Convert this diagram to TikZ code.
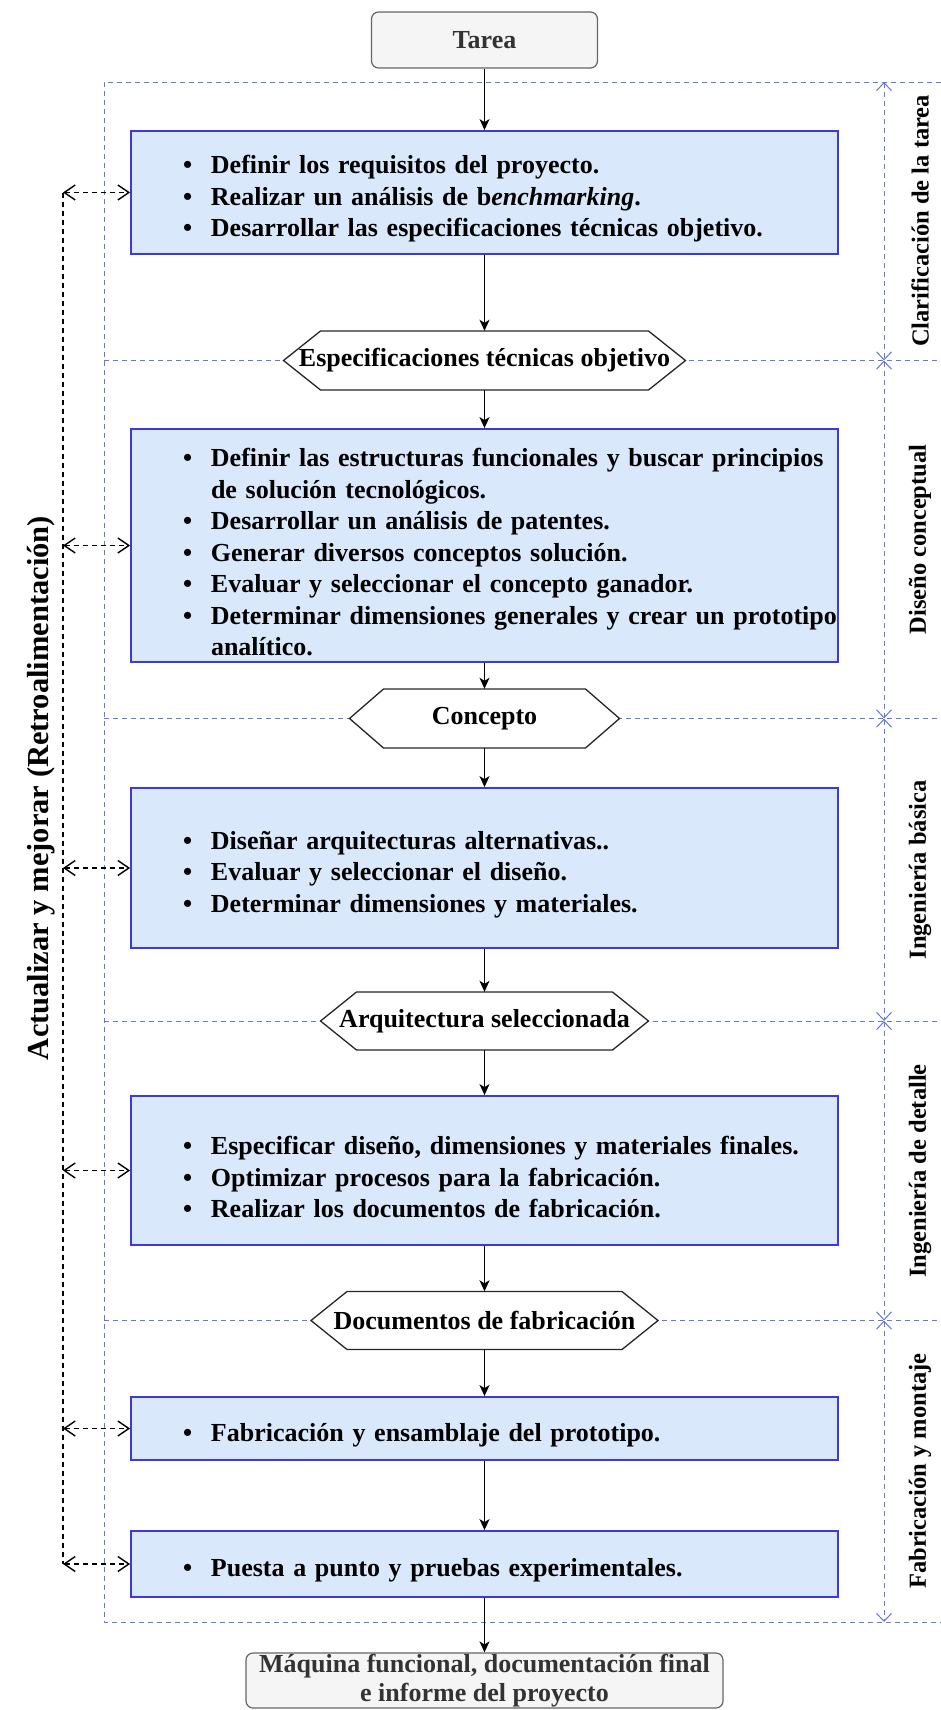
\documentclass[tikz,border=0pt]{standalone}
\usepackage{fontspec}
\setmainfont{Liberation Serif}
\usetikzlibrary{arrows.meta}
\definecolor{stepfill}{HTML}{DAE8FC}
\definecolor{stepline}{HTML}{3A3AE0}
\definecolor{phaseline}{HTML}{6477DC}
\definecolor{endfill}{HTML}{F5F5F5}
\definecolor{endline}{HTML}{666666}
\definecolor{endtext}{HTML}{333333}
\newcommand\stepitem[1]{\par\hangindent=28pt\noindent\makebox[28pt][l]{\textbullet}#1\par}
\tikzset{
  mainfont/.style={font=\bfseries\fontsize{26pt}{31.5pt}\selectfont},
  stepbox/.style={mainfont, draw=stepline, line width=1.8pt, fill=stepfill,
    inner xsep=0pt, inner ysep=0pt, text width=707pt,
    execute at begin node={\raggedright\leftskip=52pt\rightskip=-30pt plus 1fil}},
  endbox/.style={mainfont, draw=endline, line width=1.2pt, fill=endfill,
    text=endtext, rounded corners=7pt, align=center, inner sep=0pt},
  hexline/.style={draw=black!85, line width=1.3pt, fill=white},
  hexlabel/.style={mainfont, inner sep=0pt, minimum height=58pt},
  flow/.style={line width=1.5pt, -{Stealth[length=11pt,width=10pt,inset=3pt]}},
  phase/.style={draw=phaseline, line width=1pt, dash pattern=on 5pt off 4pt},
  phasearrow/.style={{Straight Barb[length=8pt,width=15pt]}-{Straight Barb[length=8pt,width=15pt]}},
  feedback/.style={line width=1.4pt, dash pattern=on 5pt off 4pt},
  feedarrow/.style={{Straight Barb[length=11pt,width=15pt]}-{Straight Barb[length=11pt,width=15pt]}},
  phaselabel/.style={font=\bfseries\fontsize{24.5pt}{29pt}\selectfont, rotate=90},
}
\begin{document}
\begin{tikzpicture}[x=1pt, y=-1pt]
\useasboundingbox (0,0) rectangle (941,1710);
% phase frame
\draw[phase] (941,82) -- (104,82) -- (104,1622) -- (941,1622);
\foreach \y in {360.5,718.5,1021,1320.5}
  \draw[phase] (104,\y) -- (941,\y);
\coordinate (p0) at (884,82);
\coordinate (p1) at (884,360.5);
\coordinate (p2) at (884,718.5);
\coordinate (p3) at (884,1021);
\coordinate (p4) at (884,1320.5);
\coordinate (p5) at (884,1622);
\foreach \a/\b in {p0/p1,p1/p2,p2/p3,p3/p4,p4/p5}
  \draw[phase, phasearrow] (\a) -- (\b);
\node[phaselabel] (clar) at (920,221) {Clarificación de la tarea};
\node[phaselabel] (conc) at (920,539.5) {Diseño conceptual};
\node[phaselabel] (basic) at (920,870) {Ingeniería básica};
\node[phaselabel] (detail) at (920,1171) {Ingeniería de detalle};
\node[phaselabel] (fabr) at (920,1471) {Fabricación y montaje};
% hexagons
\draw[hexline] (283.5,360.5) -- (320.5,331) -- (648.5,331) -- (685.5,360.5) -- (648.5,390) -- (320.5,390) -- cycle;
\draw[hexline] (349.5,718.5) -- (383.5,689) -- (585.5,689) -- (619.5,718.5) -- (585.5,748) -- (383.5,748) -- cycle;
\draw[hexline] (320.5,1021) -- (356.5,992) -- (612.5,992) -- (648.5,1021) -- (612.5,1050) -- (356.5,1050) -- cycle;
\draw[hexline] (311,1320.5) -- (347,1291.5) -- (622,1291.5) -- (658,1320.5) -- (622,1349.5) -- (347,1349.5) -- cycle;
\node[hexlabel, minimum height=59pt] (specs) at (484.5,360.5) {Especificaciones técnicas objetivo};
\node[hexlabel, minimum height=59pt] (concept) at (484.5,718.5) {Concepto};
\node[hexlabel] (arch) at (484.5,1021) {Arquitectura seleccionada};
\node[hexlabel] (docs) at (484.5,1320.5) {Documentos de fabricación};
% start and end
\node[endbox, minimum width=226pt, minimum height=56pt] (task) at (484.5,40) {Tarea};
\node[endbox, font=\bfseries\fontsize{26pt}{29pt}\selectfont, minimum width=477pt, minimum height=55pt]
  (machine) at (484.5,1680.5)
  {Máquina funcional, documentación final\\e informe del proyecto};
% steps
\node[stepbox, minimum height=123pt] (req) at (484.5,192.5) {%
  \stepitem{Definir los requisitos del proyecto.}
  \stepitem{Realizar un análisis de b\textit{enchmarking}.}
  \stepitem{Desarrollar las especificaciones técnicas objetivo.}};
\node[stepbox, minimum height=233pt] (design) at (484.5,545.5) {%
  \stepitem{Definir las estructuras funcionales y buscar principios\newline de solución tecnológicos.}
  \stepitem{Desarrollar un análisis de patentes.}
  \stepitem{Generar diversos conceptos solución.}
  \stepitem{Evaluar y seleccionar el concepto ganador.}
  \stepitem{Determinar dimensiones generales y crear un prototipo\newline analítico.}};
\node[stepbox, minimum height=160pt] (layout) at (484.5,868) {%
  \stepitem{Diseñar arquitecturas alternativas..}
  \stepitem{Evaluar y seleccionar el diseño.}
  \stepitem{Determinar dimensiones y materiales.}};
\node[stepbox, minimum height=149pt] (detailing) at (484.5,1170.5) {%
  \stepitem{Especificar diseño, dimensiones y materiales finales.}
  \stepitem{Optimizar procesos para la fabricación.}
  \stepitem{Realizar los documentos de fabricación.}};
\node[stepbox, minimum height=63pt] (build) at (484.5,1428.5) {%
  \stepitem{Fabricación y ensamblaje del prototipo.}};
\node[stepbox, minimum height=66pt] (tests) at (484.5,1564) {%
  \stepitem{Puesta a punto y pruebas experimentales.}};
% main flow
\draw[flow] (task.south) -- (req.north);
\draw[flow] (req.south) -- (specs.north);
\draw[flow] (specs.south) -- (design.north);
\draw[flow] (design.south) -- (concept.north);
\draw[flow] (concept.south) -- (layout.north);
\draw[flow] (layout.south) -- (arch.north);
\draw[flow] (arch.south) -- (detailing.north);
\draw[flow] (detailing.south) -- (docs.north);
\draw[flow] (docs.south) -- (build.north);
\draw[flow] (build.south) -- (tests.north);
\draw[flow] (tests.south) -- (machine.north);
% feedback
\coordinate (f1) at (63,192.5);
\coordinate (f2) at (63,545.5);
\coordinate (f3) at (63,868);
\coordinate (f4) at (63,1170.5);
\coordinate (f5) at (63,1428.5);
\coordinate (f6) at (63,1564);
\draw[feedback] (f1) -- (f6);
\foreach \f/\s in {f1/req,f2/design,f3/layout,f4/detailing,f5/build,f6/tests}
  \draw[feedback, feedarrow] (\f) -- (\s.west);
\node[font=\bfseries\fontsize{30.5pt}{34pt}\selectfont, rotate=90] (update) at (41,788)
  {Actualizar y mejorar (Retroalimentación)};
\end{tikzpicture}
\end{document}
